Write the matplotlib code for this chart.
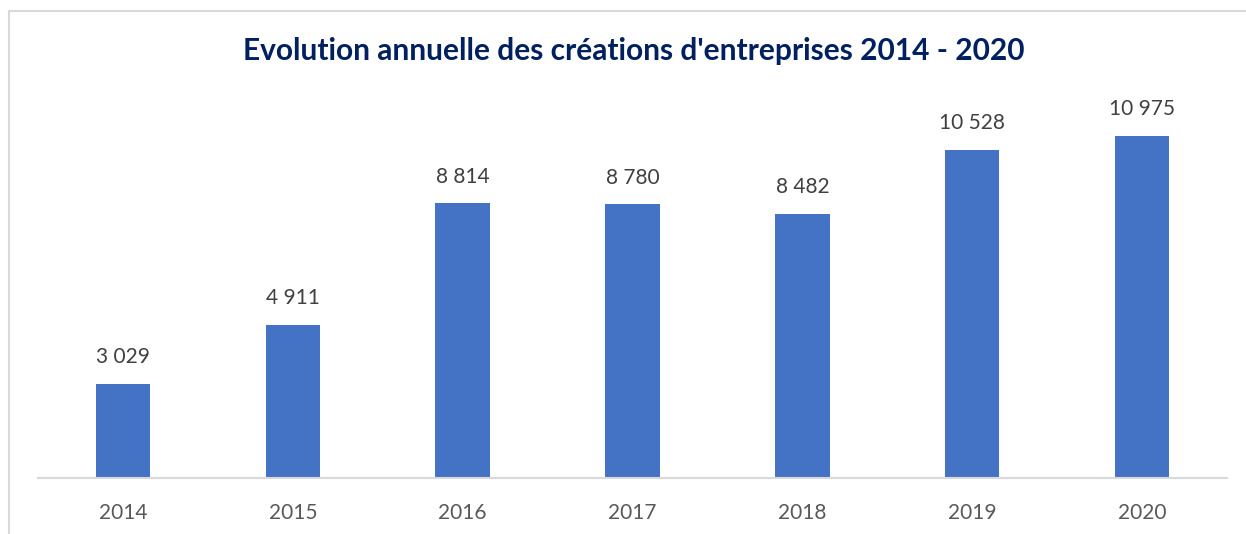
import matplotlib.pyplot as plt
from matplotlib.patches import Rectangle

years = ["2014", "2015", "2016", "2017", "2018", "2019", "2020"]
creations = [3029, 4911, 8814, 8780, 8482, 10528, 10975]

W, H = 1246, 534
plt.rcParams['font.family'] = ['Lato', 'DejaVu Sans']

fig = plt.figure(figsize=(W / 100, H / 100), dpi=100)

# outer chart frame (light grey, left and top edges visible)
fig.patches.append(Rectangle((9 / W, -0.1), 2, 1 - 11 / H + 0.1,
                             transform=fig.transFigure, fill=False,
                             edgecolor="#D9D9D9", linewidth=1.5))

ax = fig.add_axes([38 / W, (H - 478) / H, (1227 - 38) / W, (478 - 104) / H])
x = range(len(years))
bars = ax.bar(x, creations, width=0.32, color="#4472C4")
ax.set_xlim(-0.5, len(years) - 0.5)
ax.set_ylim(0, 12000)

for rect, v in zip(bars, creations):
    label = f"{v:,}".replace(",", " ")
    ax.annotate(label, (rect.get_x() + rect.get_width() / 2, v),
                xytext=(0, 12), textcoords="offset points",
                ha="center", va="bottom", fontsize=15, color="#404040")

ax.set_xticks(list(x))
ax.set_xticklabels(years, fontsize=15, color="#595959")
ax.tick_params(axis="x", length=0, pad=18)
ax.set_yticks([])
for s in ["top", "right", "left"]:
    ax.spines[s].set_visible(False)
ax.spines["bottom"].set_color("#D9D9D9")
ax.spines["bottom"].set_linewidth(1.5)

fig.text(634 / W, 1 - 51 / H, "Evolution annuelle des créations d'entreprises 2014 - 2020",
         ha="center", va="center", fontsize=21.5, fontweight="bold", color="#002060")

fig.savefig("out.png", dpi=100)
